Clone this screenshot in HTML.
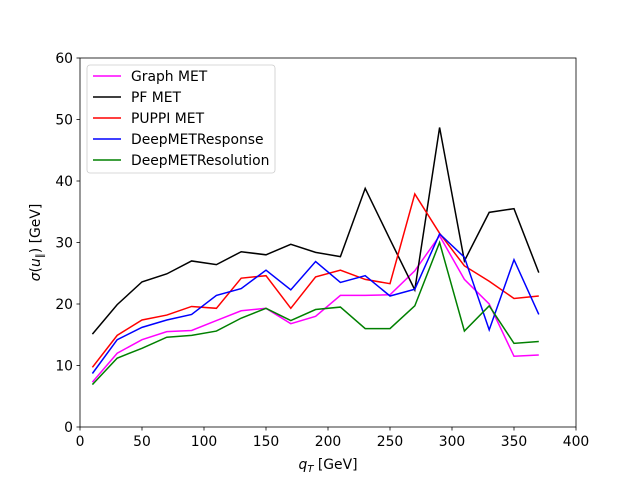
<!DOCTYPE html>
<html><head><meta charset="utf-8"><style>
body{margin:0;background:#fff}
svg{font-family:"DejaVu Sans","Liberation Sans",sans-serif}
</style></head><body>
<svg id="chart" width="640" height="480" viewBox="0 0 640 480">
<rect width="640" height="480" fill="#fff"/>
<g id="plot"></g>
</svg>
<script>
const qT=[10,30,50,70,90,110,130,150,170,190,210,230,250,270,290,310,330,350,370];
const graphMET=[7.3,12.0,14.2,15.5,15.7,17.3,18.9,19.3,16.8,18.0,21.4,21.4,21.5,25.4,31.1,24.0,20.0,11.5,11.7];
const pfMET=[15.1,19.9,23.6,24.9,27.0,26.4,28.5,28.0,29.7,28.4,27.7,38.8,30.5,22.3,48.7,27.0,34.9,35.5,25.1];
const puppiMET=[9.7,14.9,17.4,18.2,19.6,19.3,24.2,24.6,19.3,24.4,25.5,24.0,23.3,37.9,31.5,26.2,23.7,20.9,21.3];
const responseMET=[8.7,14.2,16.2,17.4,18.3,21.4,22.5,25.5,22.3,26.9,23.5,24.6,21.3,22.4,31.4,27.6,15.8,27.2,18.3];
const resolutionMET=[6.9,11.2,12.8,14.6,14.9,15.6,17.7,19.3,17.3,19.1,19.5,16.0,16.0,19.7,30.0,15.6,19.7,13.6,13.9];
const xTicks=[0,50,100,150,200,250,300,350,400];
const yTicks=[0,10,20,30,40,50,60];
const seriesNames=["Graph MET","PF MET","PUPPI MET","DeepMETResponse","DeepMETResolution"];
const seriesData=[graphMET,pfMET,puppiMET,responseMET,resolutionMET];
const colors=["#ff00ff","#000000","#ff0000","#0000ff","#008000"];

const L=80,R=576,T=58,B=427;
const xs=v=>L+(v-0)/400*(R-L);
const ys=v=>B-(v-0)/60*(B-T);
const NS="http://www.w3.org/2000/svg";
const g=document.getElementById('plot');
function mk(tag,attrs,parent){const e=document.createElementNS(NS,tag);for(const k in attrs)e.setAttribute(k,attrs[k]);(parent||g).appendChild(e);return e;}

seriesData.forEach((d,i)=>{
  const p=mk('polyline',{points:d.map((v,j)=>xs(qT[j])+','+ys(v)).join(' '),fill:'none',stroke:colors[i],'stroke-width':1.5});
  
  
});

const frame=mk('rect',{x:L,y:T,width:R-L,height:B-T,fill:'none',stroke:'#000','stroke-width':0.8});



const FS=13.9;
xTicks.forEach(t=>{
  mk('line',{x1:xs(t),x2:xs(t),y1:B,y2:B+3.5,stroke:'#000','stroke-width':0.8});
  const tx=mk('text',{x:xs(t),y:B+19,'font-size':FS,'text-anchor':'middle'});tx.textContent=t;
  
  
});
yTicks.forEach(t=>{
  mk('line',{x1:L-3.5,x2:L,y1:ys(t),y2:ys(t),stroke:'#000','stroke-width':0.8});
  const tx=mk('text',{x:L-7,y:ys(t)+5,'font-size':FS,'text-anchor':'end'});tx.textContent=t;
  
  
});

const xt=mk('text',{x:(L+R)/2,y:469,'font-size':FS,'text-anchor':'middle'});
xt.innerHTML='<tspan font-style="italic">q</tspan><tspan font-style="italic" font-size="10" dy="3">T</tspan><tspan dy="-3"> [GeV]</tspan>';


const yt=mk('text',{x:0,y:0,'font-size':FS,'text-anchor':'middle',transform:'translate(40,'+((T+B)/2)+') rotate(-90)'});
yt.innerHTML='<tspan font-style="italic">σ</tspan>(<tspan font-style="italic">u</tspan><tspan font-size="10" dy="3">∥</tspan><tspan dy="-3">) [GeV]</tspan>';



const lg=mk('g',{});


mk('rect',{x:87,y:65,width:188,height:108,rx:3,fill:'#fff','fill-opacity':0.8,stroke:'#ccc','stroke-width':0.8},lg);
seriesNames.forEach((n,i)=>{
  const y=76+i*21;
  mk('line',{x1:93,x2:121,y1:y,y2:y,stroke:colors[i],'stroke-width':1.5},lg);
  const t=mk('text',{x:131,y:y+5,'font-size':FS},lg);t.textContent=n;
  
  
});
</script>
</body></html>
